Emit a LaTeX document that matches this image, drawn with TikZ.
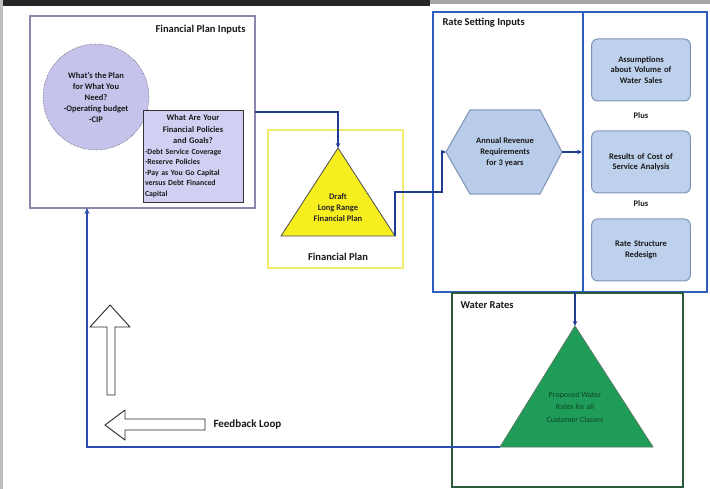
\documentclass[tikz,border=0pt]{standalone}
\usepackage{fontspec}
\setmainfont{Carlito}
\usetikzlibrary{arrows.meta}
\definecolor{fpiborder}{HTML}{8A86B0}
\definecolor{lav}{HTML}{C5C3EC}
\definecolor{lavtwo}{HTML}{D2D0F2}
\definecolor{yelborder}{HTML}{F2EC6C}
\definecolor{yelfill}{HTML}{F6EE1E}
\definecolor{bluebox}{HTML}{2D5FC0}
\definecolor{hexfill}{HTML}{B9CDEA}
\definecolor{hexborder}{HTML}{8A9CBC}
\definecolor{rbfill}{HTML}{BDD0EC}
\definecolor{rbborder}{HTML}{7F93B8}
\definecolor{greenbox}{HTML}{2B5A3C}
\definecolor{greenfill}{HTML}{1F9C58}
\definecolor{greentext}{HTML}{0E4626}
\definecolor{linkblue}{HTML}{203C90}
\definecolor{fbblue}{HTML}{2A4CB0}
\begin{document}
\begin{tikzpicture}[x=1pt,y=-1pt,
  conn/.style={draw=linkblue,line width=1.3pt,-{Stealth[length=5pt,width=4.5pt]}},
  feedback/.style={draw=fbblue,line width=1.8pt,-{Stealth[length=6pt,width=5pt]}},
  lbl/.style={font=\bfseries\fontsize{10.5}{12}\selectfont,text=black!90},
  frame/.style={inner sep=0pt,outer sep=0pt,anchor=north west},
  rbox/.style={draw=rbborder,fill=rbfill,line width=1pt,rounded corners=6pt,minimum width=98,minimum height=62,text width=92,align=center,font=\bfseries\fontsize{8.5}{10.5}\selectfont,text=black!90},
  hollow/.style={draw=black!85,fill=white,line width=0.9pt,line join=round}]
\useasboundingbox (0,0) rectangle (710,489);
\fill[white] (0,0) rectangle (710,489);
\fill[black!85] (0,0) rectangle (430,6);
\fill[black!35] (430,0) rectangle (710,4);
\fill[black!25] (0,0) rectangle (3,489);

% Financial Plan Inputs
\node[frame,draw=fpiborder,line width=2pt,minimum width=225,minimum height=192] (fpi) at (30,16) {};
\node[lbl,anchor=north east] (fpit) at (249,22) {Financial Plan Inputs};
\node[circle,fill=lav,draw=black!60,densely dotted,line width=0.6pt,minimum size=106,inner sep=0pt,align=center,font=\bfseries\fontsize{8.5}{11}\selectfont,text=black!90] (plan) at (96,97) {What's the Plan\\for What You\\Need?\\-Operating budget\\-CIP};
\node[frame,draw=black!80,fill=lavtwo,line width=0.9pt,minimum width=100,minimum height=92,text width=96,inner sep=2pt,font=\bfseries\fontsize{7.8}{10.5}\selectfont,text=black!90] (pol) at (143,110)
  {{\centering\fontsize{8.5}{11.5}\selectfont What Are Your\\Financial Policies\\and Goals?\par}\raggedright -Debt Service Coverage\\-Reserve Policies\\-Pay as You Go Capital\\versus Debt Financed\\Capital};

% Financial Plan
\node[frame,draw=yelborder,line width=2.5pt,minimum width=135,minimum height=138] (fpbox) at (268,130) {};
\coordinate (ta) at (338,148);
\coordinate (tl) at (281,236);
\coordinate (tr) at (395,236);
\filldraw[fill=yelfill,draw=black!70,line width=0.8pt] (ta) -- (tr) -- (tl) -- cycle;
\node[align=center,font=\bfseries\fontsize{8.5}{11}\selectfont,text=black!85] (draft) at (338,208) {Draft\\Long Range\\Financial Plan};
\node[lbl] (fpl) at (338,257) {Financial Plan};
\draw[conn] (fpi.east) -| (ta);

% Rate Setting Inputs
\node[frame,draw=bluebox,line width=2.5pt,minimum width=274,minimum height=280] (rsi) at (433,12) {};
\draw[bluebox,line width=1.5pt] (583,12) -- (583,292);
\coordinate (div) at (582,152);
\node[lbl,anchor=north west] (rsit) at (439,15) {Rate Setting Inputs};
\coordinate (hexl) at (446,152);
\coordinate (hexr) at (562,152);
\filldraw[fill=hexfill,draw=hexborder,line width=1.2pt] (hexl) -- (470,110) -- (540,110) -- (hexr) -- (540,194) -- (470,194) -- cycle;
\node[align=center,font=\bfseries\fontsize{8.5}{11}\selectfont,text=black!90] (arr) at (505,152) {Annual Revenue\\Requirements\\for 3 years};
\coordinate (bend) at (442,192);
\draw[conn] (tr) |- (bend) |- (hexl);
\draw[conn] (hexr) -- (div);
\node[rbox] (asm) at (641,70) {Assumptions\\about Volume of\\Water Sales};
\node[font=\bfseries\fontsize{8.5}{10}\selectfont,text=black!90] (plus1) at (641,116) {Plus};
\node[rbox] (cos) at (641,162) {Results of Cost of\\Service Analysis};
\node[font=\bfseries\fontsize{8.5}{10}\selectfont,text=black!90] (plus2) at (641,204) {Plus};
\node[rbox] (rsr) at (641,250) {Rate Structure\\Redesign};

% Water Rates
\node[frame,draw=greenbox,line width=2pt,minimum width=231,minimum height=194] (wr) at (452,293) {};
\node[lbl,anchor=north west] (wrt) at (457,298) {Water Rates};
\coordinate (ga) at (575,326);
\coordinate (gl) at (500,447);
\coordinate (gr) at (653,447);
\filldraw[fill=greenfill,draw=greenbox!80,line width=0.8pt] (ga) -- (gr) -- (gl) -- cycle;
\node[align=center,font=\fontsize{8}{12.5}\selectfont,text=greentext] (prop) at (575,407) {Proposed Water\\Rates for all\\Customer Classes};
\draw[conn] (rsi.south -| ga) -- (ga);

% Feedback loop
\coordinate (fb) at (87,447);
\draw[feedback] (gl) -- (fb) -- (fpi.south -| fb);
\draw[hollow] (107,395) -- (107,327) -- (90,327) -- (110,305) -- (130,327) -- (115,327) -- (115,395) -- cycle;
\draw[hollow] (205,419) -- (125,419) -- (125,410) -- (105,425) -- (125,440) -- (125,430) -- (205,430) -- cycle;
\node[font=\bfseries\fontsize{11}{13}\selectfont,text=black!90,anchor=west] (fbl) at (210,425) {Feedback Loop};
\end{tikzpicture}
\end{document}
